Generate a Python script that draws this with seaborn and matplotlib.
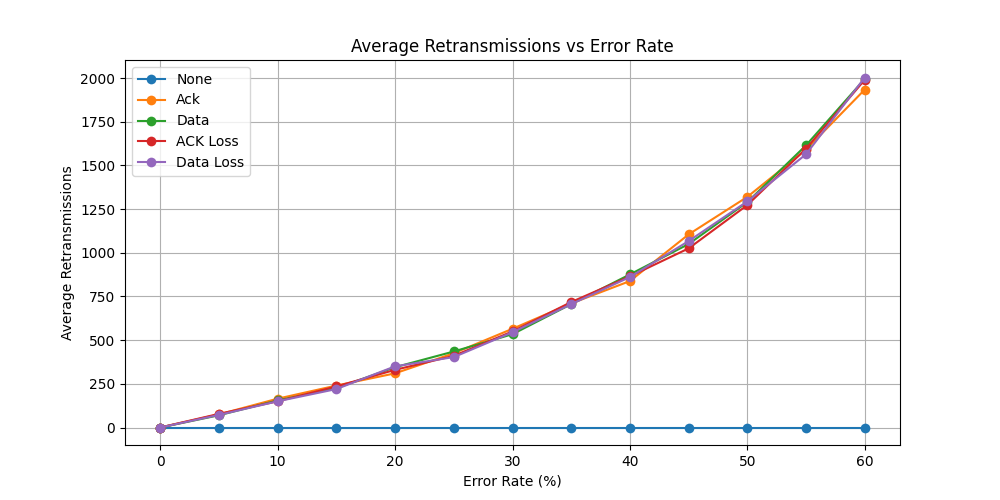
import matplotlib
matplotlib.use("Agg")
import matplotlib.pyplot as plt
import seaborn as sns
import pandas as pd

error_rates = [0, 5, 10, 15, 20, 25, 30, 35, 40, 45, 50, 55, 60]
none_vals = [0] * 13
ack_vals = [0, 75, 165, 240, 310, 425, 565, 710, 838, 1105, 1320, 1590, 1934]
data_vals = [0, 70, 155, 225, 345, 435, 534, 706, 876, 1050, 1290, 1615, 1995]
ack_loss_vals = [0, 78, 150, 235, 330, 410, 550, 718, 865, 1025, 1273, 1596, 1990]
data_loss_vals = [0, 72, 150, 220, 350, 403, 545, 706, 861, 1067, 1294, 1564, 2003]

series = {
    "None": none_vals,
    "Ack": ack_vals,
    "Data": data_vals,
    "ACK Loss": ack_loss_vals,
    "Data Loss": data_loss_vals,
}
df = pd.concat(
    [pd.DataFrame({"Error Rate": error_rates, "Value": v, "Scenario": k}) for k, v in series.items()]
)

fig, ax = plt.subplots(figsize=(10, 5), dpi=100)
sns.lineplot(data=df, x="Error Rate", y="Value", hue="Scenario", marker="o",
             markersize=7, markeredgewidth=0, palette="tab10", ax=ax)
ax.set_title("Average Retransmissions vs Error Rate")
ax.set_xlabel("Error Rate (%)")
ax.set_ylabel("Average Retransmissions")
ax.grid(True)
ax.legend(loc="upper left")
plt.savefig("out.png")
